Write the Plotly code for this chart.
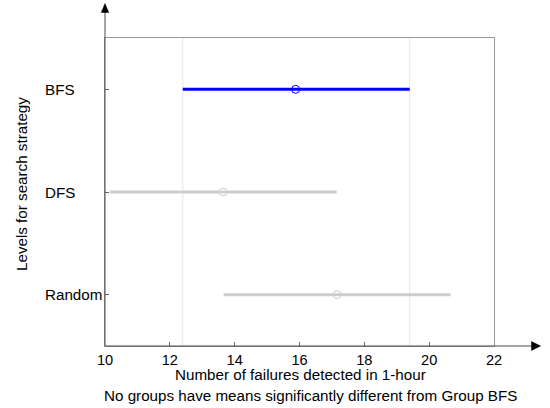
import plotly.graph_objects as go

# Group means with comparison intervals (number of failures detected in 1-hour)
groups = ["BFS", "DFS", "Random"]
levels = [3, 2, 1]
means = [15.88, 13.64, 17.16]
lower = [12.40, 10.15, 13.66]
upper = [19.40, 17.15, 20.66]
colors = ["#0000ff", "#cdcdcd", "#cdcdcd"]

x_ticks = [10, 12, 14, 16, 18, 20, 22]

W, H = 550, 408
L, R, T, B = 105, 56, 38, 62
pw, ph = W - L - R, H - T - B


def px(x):
    return (x - L) / pw


def py(y):
    return (H - B - y) / ph


fig = go.Figure()

for g, lv, m, lo, hi, c in zip(groups, levels, means, lower, upper, colors):
    fig.add_trace(go.Scatter(x=[lo, hi], y=[lv, lv], mode="lines",
                             line=dict(color=c, width=3), hoverinfo="skip"))
    fig.add_trace(go.Scatter(x=[m], y=[lv], mode="markers",
                             marker=dict(symbol="circle-open", size=8, color=c,
                                         line=dict(width=1, color=c)),
                             name=g))

shapes = []
# reference lines at the ends of the selected group's interval
for v in (lower[0], upper[0]):
    shapes.append(dict(type="line", xref="x", yref="paper", x0=v, x1=v, y0=0, y1=1,
                       line=dict(color="#e6e6e6", width=1), layer="below"))

axis_col = "#4d4d4d"
# left axis with arrow
shapes.append(dict(type="line", xref="paper", yref="paper",
                   x0=0, x1=0, y0=0, y1=py(12), line=dict(color=axis_col, width=1)))
shapes.append(dict(type="path", xref="paper", yref="paper",
                   path=f"M {px(101.3)} {py(12.5)} L {px(105)} {py(3.5)} L {px(108.7)} {py(12.5)} Z",
                   fillcolor="black", line=dict(color="black", width=0.5)))
# bottom axis with arrow
shapes.append(dict(type="line", xref="paper", yref="paper",
                   x0=0, x1=px(533), y0=0, y1=0, line=dict(color=axis_col, width=1)))
shapes.append(dict(type="path", xref="paper", yref="paper",
                   path=f"M {px(531.5)} {py(341.5)} L {px(540.5)} {py(346)} L {px(531.5)} {py(350.5)} Z",
                   fillcolor="black", line=dict(color="black", width=0.5)))

font = dict(family="Liberation Sans, Arial, sans-serif", size=15.2, color="#000000")
tick_font = dict(family="Liberation Sans, Arial, sans-serif", size=14.6, color="#000000")

annotations = []
for g, lv in zip(groups, levels):
    annotations.append(dict(text=g, xref="paper", yref="y", x=px(43), y=lv,
                            xanchor="left", yanchor="middle", showarrow=False, font=font))
annotations.append(dict(text="Number of failures detected in 1-hour", xref="paper", yref="paper",
                        x=px(300.5), y=py(374.5), xanchor="center", yanchor="middle",
                        showarrow=False, font=font))
annotations.append(dict(text="No groups have means significantly different from Group BFS",
                        xref="paper", yref="paper", x=px(310.8), y=py(395.5),
                        xanchor="center", yanchor="middle", showarrow=False, font=font))
annotations.append(dict(text="Levels for search strategy", xref="paper", yref="paper",
                        x=px(21), y=py(184), xanchor="center", yanchor="middle",
                        textangle=-90, showarrow=False, font=font))

fig.update_layout(
    width=W, height=H,
    margin=dict(l=L, r=R, t=T, b=B, pad=0),
    paper_bgcolor="white", plot_bgcolor="white",
    showlegend=False,
    font=font,
    shapes=shapes,
    annotations=annotations,
    xaxis=dict(range=[10, 22], tickvals=x_ticks, ticktext=[str(t) for t in x_ticks],
               ticks="inside", ticklen=4, tickcolor="#666666",
               showline=True, mirror=True, linecolor="#999999", linewidth=1,
               showgrid=False, zeroline=False, tickfont=tick_font),
    yaxis=dict(range=[0.5, 3.5], tickvals=levels, showticklabels=False,
               ticks="inside", ticklen=4, tickcolor="#666666",
               showline=True, mirror=True, linecolor="#999999", linewidth=1,
               showgrid=False, zeroline=False),
)

fig.write_html("out.html")
